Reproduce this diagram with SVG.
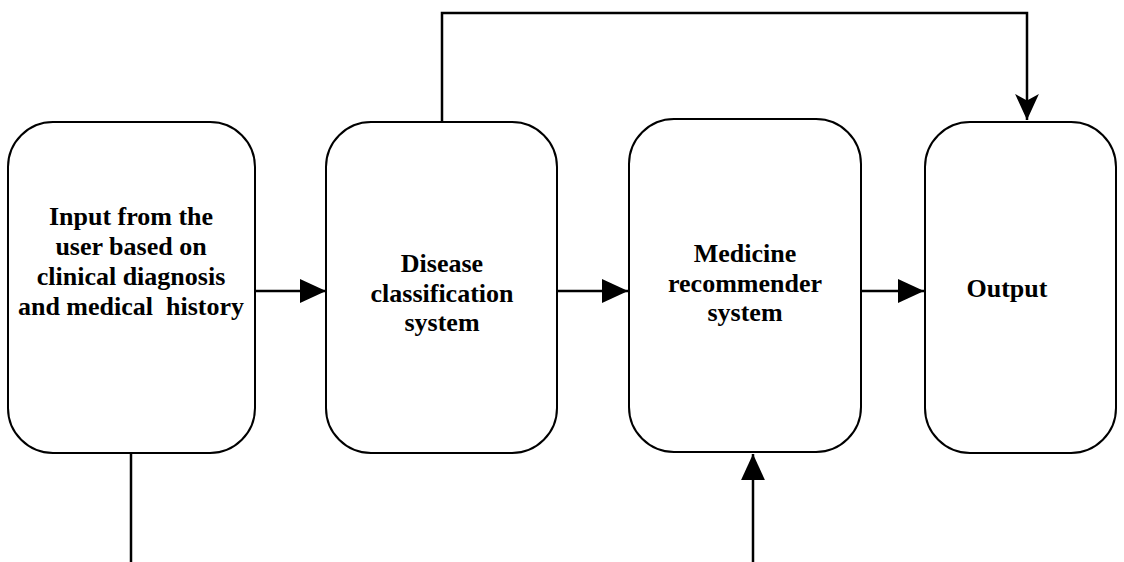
<svg xmlns="http://www.w3.org/2000/svg" width="1124" height="562" viewBox="0 0 1124 562">
<style>
.box{fill:#fff;stroke:#000;stroke-width:2}
.ln{fill:none;stroke:#000;stroke-width:2.5}
.t{font-family:"Liberation Serif","Times New Roman",serif;font-weight:bold;font-size:26px;fill:#000;text-anchor:middle}
</style>
<defs>
<marker id="ah" markerUnits="userSpaceOnUse" markerWidth="26" markerHeight="26" viewBox="0 0 24 24" refX="24" refY="12" orient="auto">
<path d="M0,1 L24,12 L0,23 Z" fill="#000"/>
</marker>
<marker id="ahn" markerUnits="userSpaceOnUse" markerWidth="26" markerHeight="26" viewBox="0 0 24 24" refX="24" refY="12" orient="auto">
<path d="M0,1 L24,12 L0,23 L6,12 Z" fill="#000"/>
</marker>
</defs>
<g id="connectors">
<line class="ln" x1="255" y1="291" x2="326" y2="291" marker-end="url(#ah)"/>
<line class="ln" x1="557" y1="291" x2="628" y2="291" marker-end="url(#ah)"/>
<line class="ln" x1="861" y1="291" x2="924" y2="291" marker-end="url(#ah)"/>
<polyline class="ln" points="442,122 442,13 1027,13 1027,120" marker-end="url(#ahn)"/>
<line class="ln" x1="131" y1="454" x2="131" y2="562"/>
<line class="ln" x1="753" y1="562" x2="753" y2="454" marker-end="url(#ah)"/>
</g>
<g id="input">
<rect class="box" x="8" y="122" width="247" height="331" rx="45" ry="45"/>
<text class="t" x="131" y="225">Input from the</text>
<text class="t" x="131" y="255">user based on</text>
<text class="t" x="131" y="285">clinical diagnosis</text>
<text class="t" x="131" y="315" xml:space="preserve">and medical  history</text>
</g>
<g id="disease">
<rect class="box" x="326" y="122" width="231" height="331" rx="45" ry="45"/>
<text class="t" x="442" y="272">Disease</text>
<text class="t" x="442" y="301.5">classification</text>
<text class="t" x="442" y="331">system</text>
</g>
<g id="medicine">
<rect class="box" x="629" y="119" width="232" height="333" rx="45" ry="45"/>
<text class="t" x="745" y="262">Medicine</text>
<text class="t" x="745" y="291.5">recommender</text>
<text class="t" x="745" y="321">system</text>
</g>
<g id="output">
<rect class="box" x="925" y="122" width="191" height="331" rx="45" ry="45"/>
<text class="t" x="1007" y="297">Output</text>
</g>
</svg>
